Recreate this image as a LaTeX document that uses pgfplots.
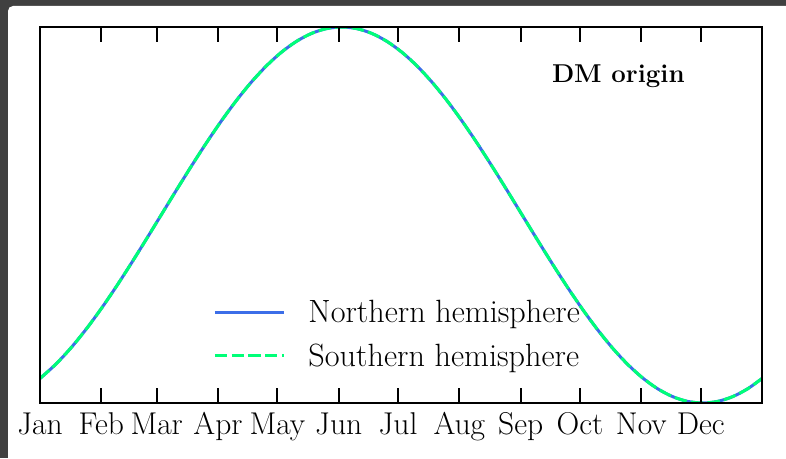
\documentclass[border=0pt]{standalone}
\usepackage{pgfplots}
\pgfplotsset{compat=1.18}
\definecolor{framegray}{RGB}{64,64,64}
\definecolor{nblue}{RGB}{60,110,232}
\definecolor{sgreen}{RGB}{0,255,120}
\begin{document}
\begin{tikzpicture}
\path[use as bounding box] (0pt,0pt) rectangle (786pt,458pt);
\fill[framegray] (0pt,0pt) rectangle (786pt,458pt);
\fill[white,rounded corners=5pt] (8pt,-10pt) rectangle (800pt,452pt);
\begin{axis}[
  at={(40pt,55pt)}, anchor=south west,
  scale only axis, width=722pt, height=376pt,
  xmin=0, xmax=365, ymin=-1, ymax=1,
  axis on top=true,
  axis line style={line width=2.6pt, black},
  xtick={0,31,59,90,120,151,181,212,243,273,304,334},
  xticklabels={Jan,Feb,Mar,Apr,May,Jun,Jul,Aug,Sep,Oct,Nov,Dec},
  ytick=\empty,
  xtick pos=both, tick align=inside,
  major tick length=15pt,
  every tick/.style={line width=2pt, black},
  tick label style={font=\fontsize{31.5}{36}\selectfont},
  xticklabel style={yshift=-6pt},
  legend cell align=left,
  legend style={draw=none, fill=none, at={(0.24,0.1835)}, anchor=west,
    font=\fontsize{32.2}{38}\selectfont, row sep=13.5pt, column sep=20pt, inner sep=0pt,
    nodes={inner sep=3pt}},
  legend image code/.code={\draw[#1] (0pt,0pt) -- (69pt,0pt);},
]
\pgfplotstableread{
t y
0 -0.8696
8.021 -0.79335
15.625 -0.70711
23.229 -0.60876
30.833 -0.5
38.438 -0.38268
46.042 -0.25882
53.646 -0.13053
61.25 0
68.854 0.13053
76.458 0.25882
84.063 0.38268
91.667 0.5
99.271 0.60876
106.875 0.70711
114.479 0.79335
122.083 0.86603
129.688 0.92388
137.292 0.96593
144.896 0.99144
152.5 1
160.104 0.99144
167.708 0.96593
175.313 0.92388
182.917 0.86603
190.521 0.79335
198.125 0.70711
205.729 0.60876
213.333 0.5
220.938 0.38268
228.542 0.25882
236.146 0.13053
243.75 0
251.354 -0.13053
258.958 -0.25882
266.563 -0.38268
274.167 -0.5
281.771 -0.60876
289.375 -0.70711
296.979 -0.79335
304.583 -0.86603
312.188 -0.92388
319.792 -0.96593
327.396 -0.99144
335 -1
342.604 -0.99144
350.208 -0.96593
357.813 -0.92388
365 -0.8696
}\curve
\addplot[nblue, line width=3pt, smooth] table {\curve};
\addlegendentry{Northern hemisphere}
\addplot[sgreen, line width=3pt, smooth, dash pattern=on 12.4pt off 4.3pt] table {\curve};
\addlegendentry{Southern hemisphere}
\node[font=\bfseries\fontsize{25.8}{30}\selectfont] at (rel axis cs:0.801,0.870) {DM origin};
\end{axis}
\end{tikzpicture}
\end{document}
